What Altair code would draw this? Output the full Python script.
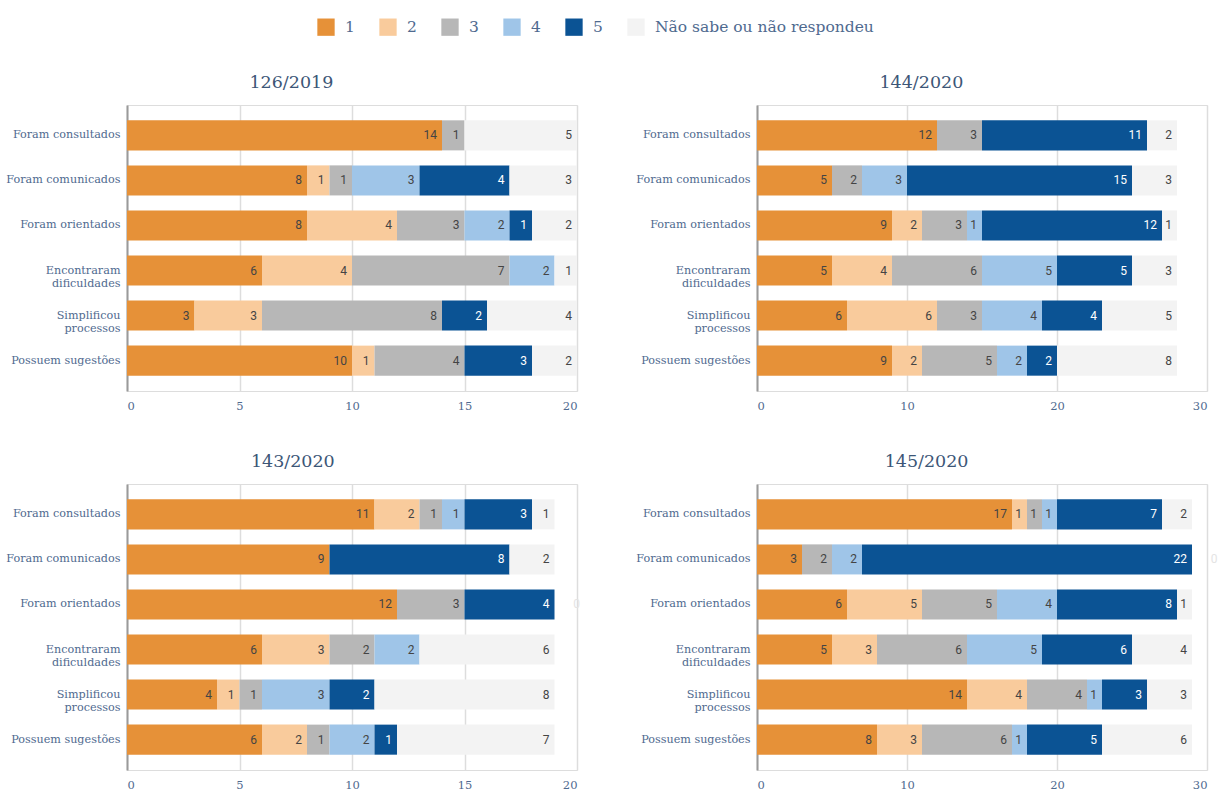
import altair as alt
import pandas as pd

panels = ["126/2019", "144/2020", "143/2020", "145/2020"]
categories = ["Foram consultados", "Foram comunicados", "Foram orientados",
              "Encontraram\ndificuldades", "Simplificou\nprocessos", "Possuem sugestões"]
responses = ["1", "2", "3", "4", "5", "Não sabe ou não respondeu"]
colors = ["#e69138", "#f9cb9c", "#b7b7b7", "#9fc5e8", "#0b5394", "#f3f3f3"]

# rows = categories, columns = responses
v_126_2019 = [[14, 0, 1, 0, 0, 5], [8, 1, 1, 3, 4, 3], [8, 4, 3, 2, 1, 2],
              [6, 4, 7, 2, 0, 1], [3, 3, 8, 0, 2, 4], [10, 1, 4, 0, 3, 2]]
v_144_2020 = [[12, 0, 3, 0, 11, 2], [5, 0, 2, 3, 15, 3], [9, 2, 3, 1, 12, 1],
              [5, 4, 6, 5, 5, 3], [6, 6, 3, 4, 4, 5], [9, 2, 5, 2, 2, 8]]
v_143_2020 = [[11, 2, 1, 1, 3, 1], [9, 0, 0, 0, 8, 2], [12, 0, 3, 0, 4, 0],
              [6, 3, 2, 2, 0, 6], [4, 1, 1, 3, 2, 8], [6, 2, 1, 2, 1, 7]]
v_145_2020 = [[17, 1, 1, 1, 7, 2], [3, 0, 2, 2, 22, 0], [6, 5, 5, 4, 8, 1],
              [5, 3, 6, 5, 6, 4], [14, 4, 4, 1, 3, 3], [8, 3, 6, 1, 5, 6]]
values = [v_126_2019, v_144_2020, v_143_2020, v_145_2020]
x_max = [20, 30, 20, 30]
x_ticks = [[0, 5, 10, 15, 20], [0, 10, 20, 30], [0, 5, 10, 15, 20], [0, 10, 20, 30]]

rows = []
for p, mat in zip(panels, values):
    for c, vals in zip(categories, mat):
        for k, (r, v) in enumerate(zip(responses, vals)):
            rows.append({"panel": p, "cat": c, "resp": r, "order": k, "value": v})
df = pd.DataFrame(rows)

SERIF = "DejaVu Serif"
LABEL_COLOR = "#4f6a8f"

legend = alt.Legend(
    title=None, orient="none", legendX=190, legendY=-87, direction="horizontal",
    symbolType="square", symbolSize=300, symbolStrokeWidth=0, symbolOpacity=1,
    labelFont=SERIF, labelFontSize=15.5, labelColor=LABEL_COLOR, labelOffset=10,
    labelLimit=0, columnPadding=24, columns=6,
)


def panel(i):
    base = alt.Chart(df).transform_filter(
        alt.datum.panel == panels[i]
    ).transform_stack(
        stack="value", groupby=["cat"], as_=["x0", "x1"],
        sort=[alt.SortField("order", "ascending")],
    )
    y = alt.Y(
        "cat:N", sort=categories, title=None,
        scale=alt.Scale(paddingInner=0.333, paddingOuter=0.34),
        axis=alt.Axis(
            labelExpr="split(datum.label, '\\n')", labelFont=SERIF, labelFontSize=11.2,
            labelColor=LABEL_COLOR, labelLineHeight=13, ticks=False, domain=True,
            domainColor="#9a9a9a", domainWidth=2, grid=False, labelPadding=7,
            minExtent=113, maxExtent=113,
        ),
    )
    x_scale = alt.Scale(domain=[0, x_max[i]], nice=False)
    bars = base.mark_bar().encode(
        x=alt.X("x0:Q", scale=x_scale, title=None,
                axis=alt.Axis(values=x_ticks[i], domain=False, ticks=False,
                              labelFont=SERIF, labelFontSize=11.5, labelColor=LABEL_COLOR,
                              labelPadding=9, gridColor="#dddddd", gridWidth=1.5)),
        x2="x1:Q",
        y=y,
        color=alt.Color("resp:N", scale=alt.Scale(domain=responses, range=colors),
                        sort=responses, legend=legend),
    )
    text = base.transform_filter(alt.datum.value > 0).mark_text(
        align="right", baseline="middle", dx=-5, font="Roboto", fontSize=12
    ).encode(
        x=alt.X("x1:Q", scale=x_scale),
        y=y,
        text="value:Q",
        color=alt.condition(alt.datum.resp == "5", alt.value("white"), alt.value("#444444")),
    )
    zero = base.transform_filter(
        (alt.datum.value == 0) & (alt.datum.resp == responses[-1])
    ).mark_text(align="center", baseline="middle", dx=22, font="Roboto", fontSize=12,
                color="#e4e4e4").encode(
        x=alt.X("x1:Q", scale=x_scale), y=y, text="value:Q"
    )
    return alt.layer(bars, text, zero).properties(
        width=450, height=286,
        title=alt.TitleParams(panels[i], font=SERIF, fontSize=17.5, fontWeight="normal",
                              color="#3c5677", anchor="middle", frame="bounds", offset=14),
    )


chart = alt.concat(
    panel(0), panel(1), panel(2), panel(3), columns=2,
    spacing=alt.RowColnumber(row=93, column=180), bounds="flush",
).properties(
    padding={"left": 5, "top": 18, "right": 5, "bottom": 2},
).configure_view(stroke=None).configure(background="white")

chart.save("out.html", embed_options={"renderer": "svg", "actions": False})
